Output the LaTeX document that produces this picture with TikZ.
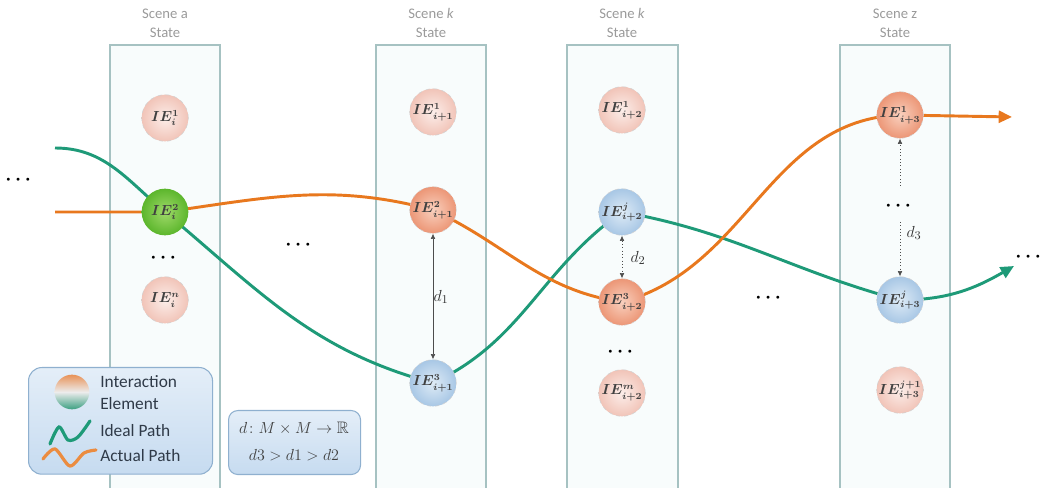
\documentclass[tikz,border=0pt]{standalone}
\usepackage{amsmath,amssymb}
\usepackage{fontspec}
\setsansfont{Carlito}
\usetikzlibrary{arrows.meta,backgrounds}
\definecolor{boxline}{HTML}{A6C2C2}
\definecolor{boxfill}{HTML}{F8FCFC}
\definecolor{gpathc}{HTML}{1E9A78}
\definecolor{opathc}{HTML}{E8781E}
\definecolor{titlec}{HTML}{9A9A9A}
\definecolor{legtext}{HTML}{2F3A48}
\definecolor{legline}{HTML}{8FB0CF}
\pgfdeclarelayer{boxes}
\pgfdeclarelayer{paths}
\pgfsetlayers{boxes,paths,main}
\tikzset{
  scenebox/.style={draw=boxline, line width=1.1pt},
  scenetitle/.style={font=\sffamily\fontsize{11}{14}\selectfont, text=titlec, align=center},
  ienode/.style={circle, minimum size=35pt, inner sep=0pt, draw=black!18, dashed, font=\fontsize{10.5}{11}\selectfont\boldmath, text=black!75},
  iepink/.style={ienode, shading=radial, inner color={rgb,255:red,252;green,238;blue,234}, outer color={rgb,255:red,241;green,196;blue,184}},
  ieorange/.style={ienode, shading=radial, inner color={rgb,255:red,249;green,208;blue,190}, outer color={rgb,255:red,236;green,150;blue,118}},
  ieblue/.style={ienode, shading=radial, inner color={rgb,255:red,222;green,235;blue,246}, outer color={rgb,255:red,168;green,199;blue,229}},
  iegreen/.style={ienode, solid, draw=none, shading=radial, inner color={rgb,255:red,160;green,218;blue,106}, outer color={rgb,255:red,92;green,182;blue,44}},
  gpath/.style={draw=gpathc, line width=2.2pt},
  opath/.style={draw=opathc, line width=2.2pt},
  tip/.style={-{Triangle[length=10pt,width=9pt]}},
  darrow/.style={draw=black!70, line width=0.5pt, {Latex[length=4pt,width=3.5pt]}-{Latex[length=4pt,width=3.5pt]}},
  sarrow/.style={draw=black!70, line width=0.5pt, -{Latex[length=4pt,width=3.5pt]}},
  dots/.style={font=\Large\boldmath, inner sep=0pt},
  dlabel/.style={font=\fontsize{13}{14}\selectfont, text=black!80},
  legbox/.style={draw=legline, line width=0.8pt, top color={rgb,255:red,228;green,238;blue,248}, bottom color={rgb,255:red,198;green,219;blue,240}},
  legtxt/.style={font=\sffamily\fontsize{13}{14}\selectfont, text=legtext, anchor=west, inner sep=0pt},
}
\begin{document}
\begin{tikzpicture}[x=0.75pt,y=-0.75pt]
\useasboundingbox (0,0) rectangle (1051,488);

% scene boxes
\begin{pgfonlayer}{boxes}
\foreach \xa/\xb in {110/220, 376/486, 567/678, 840/950}{
  \fill[boxfill] (\xa,45) rectangle (\xb,495);
  \draw[scenebox] (\xa,495) -- (\xa,45) -- (\xb,45) -- (\xb,495);
}
\end{pgfonlayer}

% titles
\node[scenetitle] (t1) at (165,23) {Scene a\\State};
\node[scenetitle] (t2) at (431,23) {Scene \textit{k}\\State};
\node[scenetitle] (t3) at (622,23) {Scene \textit{k}\\State};
\node[scenetitle] (t4) at (895,23) {Scene z\\State};

% column 1
\node[iepink] (c1n1) at (165,118) {$IE_{i}^{1}$};
\node[iegreen] (c1n2) at (165,212) {$IE_{i}^{2}$};
\node[dots] (c1d) at (165,258) {$\cdots$};
\node[iepink] (c1n3) at (165,300) {$IE_{i}^{n}$};

% column 2
\node[iepink] (c2n1) at (433,112) {$IE_{i+1}^{1}$};
\node[ieorange] (c2n2) at (433,210) {$IE_{i+1}^{2}$};
\node[ieblue] (c2n3) at (433,383) {$IE_{i+1}^{3}$};

% column 3
\node[iepink] (c3n1) at (622,110) {$IE_{i+2}^{1}$};
\node[ieblue] (c3n2) at (622,212) {$IE_{i+2}^{j}$};
\node[ieorange] (c3n3) at (622,302) {$IE_{i+2}^{3}$};
\node[dots] (c3d) at (622,352) {$\cdots$};
\node[iepink] (c3n4) at (622,393) {$IE_{i+2}^{m}$};

% column 4
\node[ieorange] (c4n1) at (900,115) {$IE_{i+3}^{1}$};
\node[dots] (c4d) at (900,206) {$\cdots$};
\node[ieblue] (c4n2) at (900,300) {$IE_{i+3}^{j}$};
\node[iepink] (c4n3) at (900,390) {$IE_{i+3}^{j+1}$};

% free dots
\node[dots] (dl) at (20,180) {$\cdots$};
\node[dots] (dm1) at (300,245) {$\cdots$};
\node[dots] (dm2) at (770,298) {$\cdots$};
\node[dots] (dr) at (1030,257) {$\cdots$};

% distances
\draw[darrow] (c2n2.south) -- (c2n3.north);
\node[dlabel] (d1) at (441,297) {$d_1$};
\draw[darrow, dotted] (c3n2.south) -- (c3n3.north);
\node[dlabel] (d2) at (638,258) {$d_2$};
\coordinate (d3a) at (900,186);
\coordinate (d3b) at (900,222);
\draw[sarrow, dotted] (d3a) -- (c4n1.south);
\draw[sarrow, dotted] (d3b) -- (c4n2.north);
\node[dlabel] (d3) at (914,233) {$d_3$};

% paths
\coordinate (g0) at (55,148);
\coordinate (gend) at (1014,266);
\coordinate (o0) at (55,212);
\coordinate (oend) at (1012,117);
\begin{pgfonlayer}{paths}
\draw[gpath, tip] (g0) to[out=0,in=140] (c1n2.center)
  to[out=-40,in=165] (c2n3.center)
  to[out=25,in=-145] (c3n2.center)
  to[out=-10,in=165] (c4n2.center)
  to[out=0,in=-150] (gend);
\draw[opath, tip] (o0) -- (c1n2.center)
  to[out=8,in=165] (c2n2.center)
  to[out=-25,in=172] (c3n3.center)
  to[out=15,in=182] (c4n1.center)
  -- (oend);
\end{pgfonlayer}

% legend
\node[legbox, rounded corners=10pt, minimum width=138pt, minimum height=80pt, anchor=north west, inner sep=0pt] (leg) at (28,367) {};
\node[circle, minimum size=26pt, inner sep=0pt, top color={rgb,255:red,232;green,146;blue,88}, bottom color={rgb,255:red,60;green,160;blue,130}, middle color=white!85!gray] (legc) at (72,392) {};
\node[legtxt] (lt1) at (100,382) {Interaction};
\node[legtxt] (lt2) at (100,404) {Element};
\node[legtxt] (lt3) at (100,431) {Ideal Path};
\node[legtxt] (lt4) at (100,456) {Actual Path};
\draw[gpathc, line width=2.4pt, line cap=round] plot[smooth] coordinates {(50,444) (59,427) (68,440) (78,437) (90,421)};
\draw[opathc!85, line width=2.4pt, line cap=round] plot[smooth] coordinates {(43,459) (55,449) (70,466) (84,453) (96,450)};

\node[legbox, rounded corners=7pt, minimum width=99pt, minimum height=48pt, anchor=north west, inner sep=0pt] (defb) at (228,410) {};
\node[font=\fontsize{12.5}{13}\selectfont, text=black!75] (def1) at (294,428) {$d\colon M\times M\to\mathbb{R}$};
\node[font=\fontsize{12.5}{13}\selectfont, text=black!75] (def2) at (294,455) {$d3>d1>d2$};
\end{tikzpicture}
\end{document}
